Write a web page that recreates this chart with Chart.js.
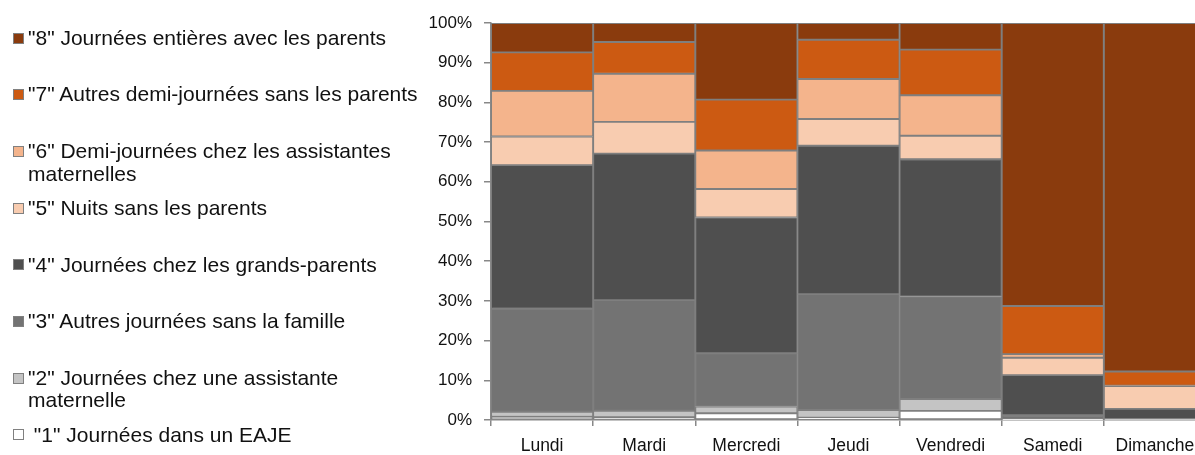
<!DOCTYPE html>
<html lang="fr">
<head>
<meta charset="utf-8">
<script src="https://cdn.jsdelivr.net/npm/chart.js@4.4.1/dist/chart.umd.min.js"></script>
<style>
  html, body { margin: 0; padding: 0; background: #fff; overflow: hidden; width: 1195px; height: 455px; }
  #wrap { position: absolute; left: 0; top: 0; width: 1210px; height: 455px; }
  #legend { position: absolute; left: 0; top: 0; width: 440px; font-family: "Liberation Sans", Arial, sans-serif; font-size: 21px; color: #111; }
  .item { position: absolute; left: 0; width: 440px; }
  .box { position: absolute; left: 13px; width: 9px; height: 9px; border: 1px solid #808080; }
  .txt { position: absolute; left: 28px; width: 400px; line-height: 22.5px; white-space: pre-wrap; }
</style>
</head>
<body>
<div id="wrap"><canvas id="c"></canvas></div>
<div id="legend"></div>
<script>
const categories = ["Lundi", "Mardi", "Mercredi", "Jeudi", "Vendredi", "Samedi", "Dimanche"];
const yTickLabels = ["0%", "10%", "20%", "30%", "40%", "50%", "60%", "70%", "80%", "90%", "100%"];

const seriesNames = [
  ' "1" Journées dans un EAJE',
  '"2" Journées chez une assistante maternelle',
  '"3" Autres journées sans la famille',
  '"4" Journées chez les grands-parents',
  '"5" Nuits sans les parents',
  '"6" Demi-journées chez les assistantes maternelles',
  '"7" Autres demi-journées sans les parents',
  '"8" Journées entières avec les parents'
];

const s1 = [0.8, 0.7, 1.7, 0.6, 2.3, 0.1, 0.05];
const s2 = [1.3, 1.65, 1.7, 1.9, 3.0, 0.1, 0.05];
const s3 = [25.9, 27.85, 13.4, 29.2, 25.8, 1.0, 0.15];
const s4 = [36.2, 36.9, 34.2, 37.4, 34.6, 10.1, 2.55];
const s5 = [7.2, 8.0, 7.2, 6.7, 5.9, 4.4, 5.75];
const s6 = [11.5, 12.1, 9.7, 10.1, 10.2, 0.9, 0.1];
const s7 = [9.7, 8.0, 12.8, 9.9, 11.5, 12.1, 3.55];
const s8 = [7.4, 4.8, 19.3, 4.2, 6.7, 71.3, 87.8];

const seriesValues = [s1, s2, s3, s4, s5, s6, s7, s8];
const seriesColors = ["#FFFFFF", "#C4C4C4", "#737373", "#4F4F4F", "#F8CCB0", "#F4B48C", "#CC5A12", "#8A3B0D"];

const datasets = seriesValues.map((vals, i) => ({
  label: seriesNames[i],
  data: vals,
  backgroundColor: seriesColors[i],
  borderColor: "#7F7F7F",
  borderWidth: 1.3,
  borderSkipped: false,
  stack: "s"
}));

const chart = new Chart(document.getElementById("c"), {
  type: "bar",
  data: { labels: categories, datasets },
  options: {
    responsive: true,
    maintainAspectRatio: false,
    animation: false,
    layout: { padding: { left: 0, top: 23, right: 4, bottom: 0 } },
    datasets: { bar: { categoryPercentage: 1.0, barPercentage: 1.0 } },
    plugins: { legend: { display: false }, tooltip: { enabled: false } },
    scales: {
      x: {
        stacked: true,
        grid: { display: true, drawOnChartArea: false, drawTicks: true, tickLength: 6, color: "#888888", lineWidth: 1.5, offset: true },
        border: { display: true, color: "#888888", width: 1.5 },
        ticks: { color: "#111", padding: 10, font: { family: "'Liberation Sans', Arial", size: 17.5 } },
        afterFit: s => { s.height = 35; }
      },
      y: {
        stacked: true,
        min: 0, max: 100,
        grid: { display: true, drawOnChartArea: false, drawTicks: true, tickLength: 7, color: "#888888", lineWidth: 1.5 },
        border: { display: true, color: "#888888", width: 1.5 },
        ticks: {
          stepSize: 10, color: "#111", padding: 12,
          font: { family: "'Liberation Sans', Arial", size: 17 },
          callback: (v) => yTickLabels[Math.round(v / 10)]
        },
        afterFit: s => { s.width = 491; }
      }
    }
  }
});

// HTML legend built from the chart's datasets (top series first)
const legend = document.getElementById("legend");
const ds = chart.data.datasets.slice().reverse();
ds.forEach((d, i) => {
  const cy = 38 + i * 56.7;
  const item = document.createElement("div");
  item.className = "item";
  item.style.top = (cy - 11.25) + "px";
  const box = document.createElement("div");
  box.className = "box";
  box.style.top = (11.25 - 5.5) + "px";
  box.style.background = d.backgroundColor;
  const txt = document.createElement("div");
  txt.className = "txt";
  txt.textContent = d.label;
  item.appendChild(box);
  item.appendChild(txt);
  legend.appendChild(item);
});
</script>
</body>
</html>
